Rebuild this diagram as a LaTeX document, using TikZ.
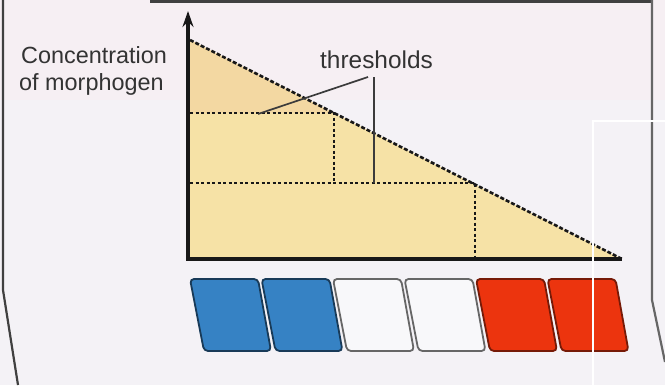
\documentclass[tikz,border=0pt]{standalone}
\usepackage{fontspec}
\newfontfamily\labfont{Liberation Sans}
\usetikzlibrary{arrows.meta}
\definecolor{bgcol}{HTML}{F4F2F6}
\definecolor{bgtop}{HTML}{F6EFF3}
\definecolor{ylow}{HTML}{F6E2A6}
\definecolor{yup}{HTML}{F3D8A2}
\definecolor{inkcol}{HTML}{181818}
\definecolor{txtcol}{HTML}{333333}
\definecolor{bluecol}{HTML}{3682C4}
\definecolor{redcol}{HTML}{EC340E}
\definecolor{whitecol}{HTML}{F8F8FA}
\tikzset{
  lbl/.style={inner sep=0pt, text=txtcol, font=\labfont\fontsize{23.5}{27}\selectfont},
  thrlbl/.style={inner sep=0pt, text=txtcol, font=\labfont\fontsize{24.5}{28}\selectfont},
  axisline/.style={draw=inkcol, line width=3.2bp},
  hyp/.style={draw=inkcol, line width=2.6bp, dash pattern=on 4bp off 2bp},
  level/.style={draw=inkcol, line width=2.3bp, dash pattern=on 3bp off 2.5bp},
  pointer/.style={draw=inkcol!85, line width=1.7bp},
  frameline/.style={draw=black!75, line width=2.2bp},
  block/.style={line width=1.8bp, rounded corners=4bp},
}
\begin{document}
\begin{tikzpicture}[x=1bp,y=-1bp]
\useasboundingbox (0,0) rectangle (665,385);
\fill[bgcol] (0,0) rectangle (665,385);
\fill[bgtop] (0,0) rectangle (665,100);
% frame
\draw[frameline] (150,1.5) -- (652,1.5);
\draw[frameline] (3,0) -- (3,290) -- (18,385);
\draw[frameline, draw=black!60] (652,0) -- (652,300) -- (665,362);
% triangle fill
\coordinate (apex) at (190,40);
\coordinate (origin) at (189,259);
\coordinate (tip) at (622,259);
\fill[ylow] (apex) -- (origin) -- (tip) -- cycle;
\fill[yup] (apex) -- (190,113) -- (333,113) -- cycle;
% level lines
\coordinate (h1a) at (190,113);
\coordinate (h1b) at (334,113);
\coordinate (v1b) at (334,183);
\coordinate (h2a) at (190,183);
\coordinate (h2b) at (475,183);
\coordinate (v2b) at (475,259);
\draw[level] (h1a) -- (h1b) -- (v1b);
\draw[level] (h2a) -- (h2b) -- (v2b);
% hypotenuse
\draw[hyp] (apex) -- (tip);
% axes
\coordinate (ytop) at (188,11);
\draw[axisline] (origin) -- (tip);
\draw[axisline, -{Stealth[length=16bp,width=11bp]}] (188,260.5) -- (ytop);
% labels
\node[lbl, anchor=base west] (conc) at (21,63) {Concentration};
\node[lbl, anchor=base west] (morph) at (19,90) {of morphogen};
\node[thrlbl, anchor=base west] (thr) at (320,68) {thresholds};
% threshold pointers
\coordinate (p0) at (368,77);
\coordinate (p1) at (258,114);
\coordinate (q0) at (374,77);
\coordinate (q1) at (374,183);
\draw[pointer] (p0) -- (p1);
\draw[pointer] (q0) -- (q1);
% blocks
\foreach \i/\fc/\dc in {0/bluecol/bluecol!45!black, 1/bluecol/bluecol!45!black, 2/whitecol/black!60, 3/whitecol/black!60, 4/redcol/redcol!50!black, 5/redcol/redcol!50!black}{
  \pgfmathsetmacro{\xl}{190+71.5*\i}
  \path[block, fill=\fc, draw=\dc] (\xl,279) -- (\xl+68,279) -- (\xl+81,351) -- (\xl+14,351) -- cycle;
}
% scan artefact
\draw[white, line width=1.5bp] (593,385) -- (593,121) -- (665,121);
\end{tikzpicture}
\end{document}
